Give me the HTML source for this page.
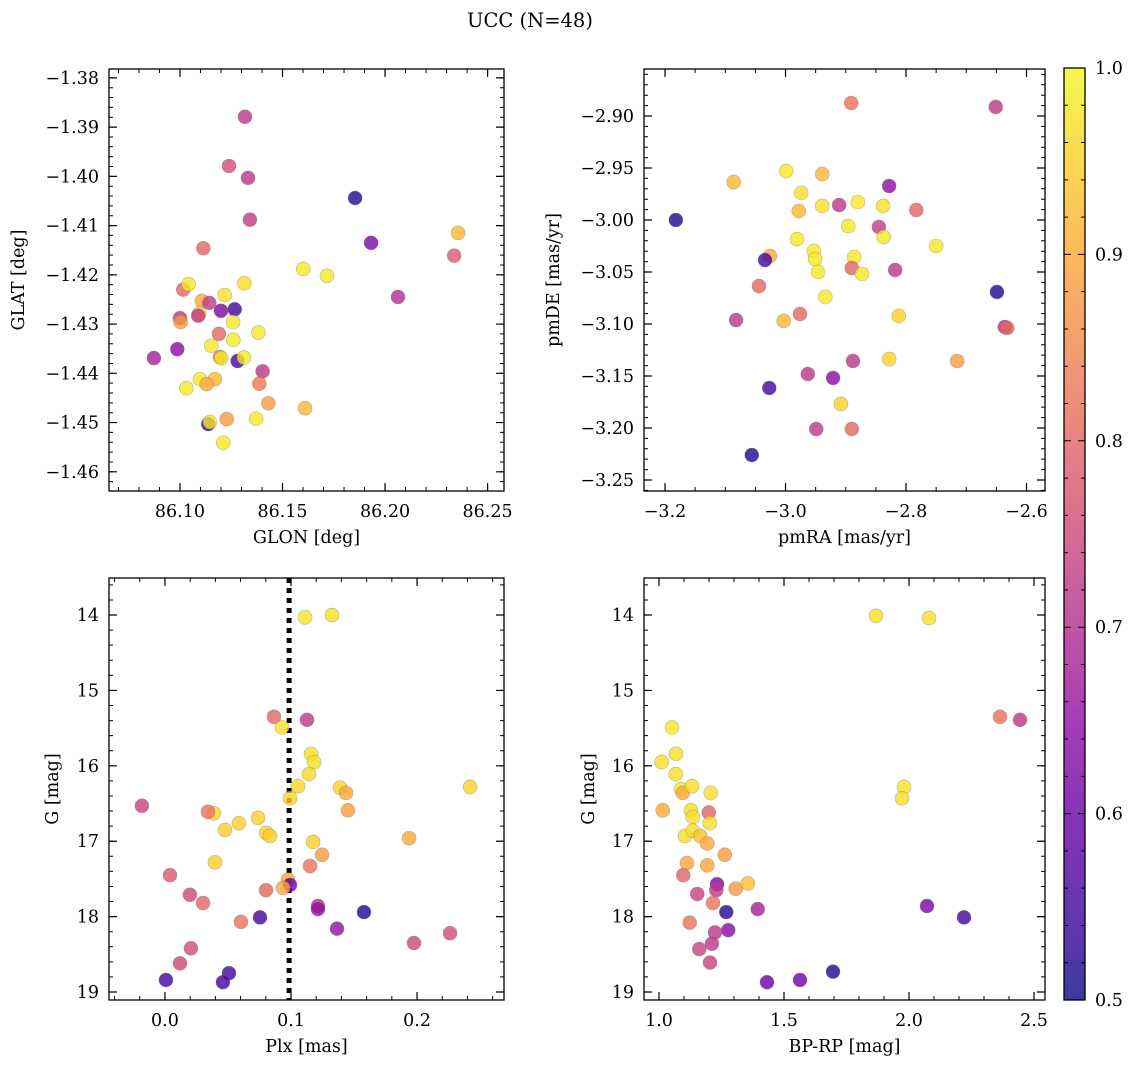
<!DOCTYPE html>
<html><head><meta charset="utf-8"><title>UCC (N=48)</title>
<style>
html,body{margin:0;padding:0;background:#fff;}
svg{display:block;font-family:"DejaVu Serif","Liberation Serif",serif;}
</style></head>
<body>
<svg id="fig" width="1136" height="1068" viewBox="0 0 1136 1068" xmlns="http://www.w3.org/2000/svg">
<defs>
<linearGradient id="plasmaGrad" x1="0" y1="1" x2="0" y2="0">
<stop offset="0" stop-color="#0d0887"/><stop offset="0.1" stop-color="#41049d"/><stop offset="0.2" stop-color="#6a00a8"/><stop offset="0.3" stop-color="#8f0da4"/><stop offset="0.4" stop-color="#b12a90"/><stop offset="0.5" stop-color="#cc4778"/><stop offset="0.6" stop-color="#e16462"/><stop offset="0.7" stop-color="#f2844b"/><stop offset="0.8" stop-color="#fca636"/><stop offset="0.9" stop-color="#fcce25"/><stop offset="1" stop-color="#f0f921"/>
</linearGradient>
</defs>
<text x="530" y="27" font-size="19.5" text-anchor="middle">UCC (N=48)</text>
</svg>
<script>
// ---- Panel 1: GLON vs GLAT ----
const glon1 = [86.1114,86.1601,86.1314,86.1016,86.1042,86.1218,86.1107,86.1143,86.1200,86.1267,86.1094,86.1089,86.1000,86.1003,86.1259,86.1382,86.1190,86.1260,86.1153,86.0987,86.0873,86.1195,86.1201,86.1281,86.1312,86.1403,86.1387,86.1098,86.1171,86.1130,86.1031,86.1431,86.1610,86.1138,86.1146,86.1228,86.1371,86.1211,86.1317,86.1239,86.1332,86.1854,86.1341,86.1932,86.2356,86.2337,86.1717,86.2063];
const glat1 = [-1.4146,-1.4188,-1.4217,-1.4230,-1.4219,-1.4241,-1.4253,-1.4257,-1.4273,-1.4270,-1.4279,-1.4283,-1.4288,-1.4296,-1.4296,-1.4317,-1.4320,-1.4332,-1.4344,-1.4351,-1.4369,-1.4367,-1.4369,-1.4375,-1.4368,-1.4396,-1.4421,-1.4412,-1.4412,-1.4422,-1.4430,-1.4461,-1.4471,-1.4503,-1.4499,-1.4493,-1.4492,-1.4541,-1.3879,-1.3979,-1.4003,-1.4044,-1.4088,-1.4135,-1.4115,-1.4161,-1.4202,-1.4245];
const prob1 = [0.80,0.98,0.97,0.80,0.98,0.97,0.90,0.73,0.62,0.55,0.97,0.72,0.72,0.88,0.98,0.98,0.80,0.98,0.98,0.64,0.68,0.82,0.98,0.55,0.98,0.72,0.83,0.98,0.92,0.90,0.98,0.88,0.92,0.52,0.98,0.88,0.98,0.98,0.72,0.76,0.72,0.52,0.73,0.62,0.92,0.78,0.98,0.70];
// ---- Panel 2: pmRA vs pmDE ----
const pmra2 = [-2.891,-2.651,-2.999,-3.086,-2.828,-2.974,-2.939,-3.182,-2.978,-2.939,-2.880,-2.911,-2.838,-2.783,-2.845,-2.896,-2.837,-2.981,-3.026,-3.034,-2.953,-2.951,-2.946,-2.750,-2.886,-2.890,-2.818,-2.873,-2.649,-2.636,-2.632,-3.044,-2.934,-3.082,-3.003,-2.976,-2.812,-2.888,-2.828,-2.715,-2.963,-2.921,-3.027,-2.908,-2.949,-2.890,-3.056];
const pmde2 = [-2.8875,-2.8913,-2.9529,-2.9635,-2.9673,-2.9740,-2.9558,-3.0000,-2.9913,-2.9865,-2.9827,-2.9856,-2.9865,-2.9904,-3.0067,-3.0058,-3.0163,-3.0183,-3.0346,-3.0385,-3.0298,-3.0375,-3.0500,-3.0250,-3.0356,-3.0462,-3.0481,-3.0519,-3.0692,-3.1029,-3.1038,-3.0635,-3.0740,-3.0962,-3.0971,-3.0904,-3.0923,-3.1356,-3.1337,-3.1356,-3.1481,-3.1519,-3.1615,-3.1769,-3.2010,-3.2010,-3.2260];
const prob2 = [0.82,0.72,0.98,0.92,0.65,0.97,0.92,0.52,0.92,0.97,0.98,0.72,0.97,0.80,0.73,0.98,0.98,0.98,0.90,0.55,0.98,0.98,0.98,0.98,0.98,0.80,0.72,0.98,0.52,0.70,0.80,0.80,0.98,0.72,0.92,0.80,0.95,0.72,0.95,0.88,0.72,0.64,0.55,0.95,0.72,0.80,0.52];
// ---- Panel 3: Plx vs G ----
const plx3 = [0.1325,0.1111,0.0865,0.0929,0.1127,0.1159,0.1183,0.1056,0.0992,0.1143,0.1389,0.2421,0.1437,0.1452,-0.0183,0.0389,0.0341,0.0476,0.0587,0.0738,0.0802,0.0833,0.1175,0.1937,0.1246,0.1151,0.0397,0.0040,0.0976,0.0992,0.0937,0.0802,0.1214,0.1214,0.0198,0.0302,0.0754,0.1579,0.0603,0.1365,0.2262,0.1976,0.0206,0.0119,0.0008,0.0508,0.0460];
const gmag3 = [14.00,14.03,15.35,15.49,15.39,15.84,15.95,16.27,16.43,16.11,16.29,16.28,16.36,16.59,16.53,16.63,16.61,16.85,16.76,16.69,16.89,16.93,17.01,16.96,17.18,17.33,17.28,17.45,17.51,17.58,17.62,17.65,17.86,17.90,17.71,17.82,18.01,17.94,18.07,18.16,18.22,18.35,18.42,18.62,18.84,18.75,18.87];
const prob3 = [0.97,0.98,0.80,0.97,0.72,0.97,0.97,0.96,0.96,0.96,0.95,0.95,0.90,0.88,0.74,0.96,0.82,0.95,0.95,0.95,0.95,0.95,0.95,0.90,0.88,0.82,0.95,0.78,0.90,0.60,0.90,0.80,0.70,0.65,0.75,0.80,0.55,0.52,0.82,0.65,0.76,0.75,0.76,0.75,0.55,0.55,0.55];
const plxLine = 0.0985;
// ---- Panel 4: BP-RP vs G ----
const bprp4 = [1.052,1.068,1.011,1.067,1.088,1.095,1.132,1.207,1.015,1.128,1.135,1.199,1.203,1.104,1.135,1.165,1.193,1.263,1.112,1.193,1.097,1.232,1.229,1.307,1.355,1.153,1.216,1.395,1.269,1.123,1.224,1.277,1.212,1.161,1.204,1.432,1.564,1.696,1.868,2.080,2.364,2.444,1.980,1.972,2.072,2.220];
const gmag4 = [15.49,15.84,15.95,16.11,16.31,16.36,16.27,16.36,16.59,16.59,16.68,16.62,16.76,16.93,16.86,16.93,17.03,17.18,17.29,17.32,17.45,17.57,17.65,17.63,17.56,17.70,17.82,17.90,17.94,18.08,18.21,18.18,18.36,18.43,18.61,18.87,18.84,18.73,14.01,14.04,15.35,15.39,16.28,16.43,17.86,18.01];
const prob4 = [0.98,0.97,0.97,0.97,0.98,0.90,0.97,0.97,0.90,0.97,0.97,0.80,0.97,0.97,0.97,0.93,0.90,0.88,0.90,0.90,0.80,0.62,0.72,0.88,0.93,0.74,0.82,0.68,0.52,0.82,0.72,0.64,0.72,0.74,0.74,0.60,0.60,0.52,0.97,0.97,0.82,0.72,0.97,0.97,0.62,0.55];
// ---- tick labels ----
const ticks1x = [86.10,86.15,86.20,86.25];
const ticks1y = [-1.38,-1.39,-1.40,-1.41,-1.42,-1.43,-1.44,-1.45,-1.46];
const ticks2x = [-3.2,-3.0,-2.8,-2.6];
const ticks2y = [-2.90,-2.95,-3.00,-3.05,-3.10,-3.15,-3.20,-3.25];
const ticks3x = [0.0,0.1,0.2];
const ticksG = [14,15,16,17,18,19];
const ticks4x = [1.0,1.5,2.0,2.5];
const ticksCbar = [0.5,0.6,0.7,0.8,0.9,1.0];

const NS = "http://www.w3.org/2000/svg";
const svg = document.getElementById('fig');
const stops = [[13,8,135],[65,4,157],[106,0,168],[143,13,164],[177,42,144],[204,71,120],[225,100,98],[242,132,75],[252,166,54],[252,206,37],[240,249,33]];
function plasma(v){
  let t=(v-0.5)/0.5; t=Math.max(0,Math.min(1,t));
  const f=t*10, i=Math.min(9,Math.floor(f)), r=f-i;
  const a=stops[i], b=stops[i+1];
  return 'rgb('+[0,1,2].map(k=>Math.round(a[k]+(b[k]-a[k])*r)).join(',')+')';
}
function mk(tag, attrs, parent){
  const e=document.createElementNS(NS,tag);
  for(const k in attrs) e.setAttribute(k,attrs[k]);
  (parent||svg).appendChild(e);
  return e;
}
const TF=17.5, LF=17.5;
function panel(o){
  const g=mk('g',{});
  
  
  const sx=v=>o.L+(v-o.x0)/(o.x1-o.x0)*(o.R-o.L);
  const sy=v=>o.T+(v-o.y0)/(o.y1-o.y0)*(o.B-o.T);
  const dx=o.minx, dy=o.miny;
  const xlo=Math.min(o.x0,o.x1), xhi=Math.max(o.x0,o.x1), ylo=Math.min(o.y0,o.y1), yhi=Math.max(o.y0,o.y1);
  for(let k=Math.ceil(xlo/dx-1e-6);k*dx<=xhi+1e-9;k++){
    const x=sx(k*dx);
    const t=mk('path',{d:`M${x},${o.B}v-4M${x},${o.T}v4`,stroke:'#000','stroke-width':1},g);
    
    
  }
  for(let k=Math.ceil(ylo/dy-1e-6);k*dy<=yhi+1e-9;k++){
    const y=sy(k*dy);
    const t=mk('path',{d:`M${o.L},${y}h4M${o.R},${y}h-4`,stroke:'#000','stroke-width':1},g);
    
    
  }
  o.tx.forEach(v=>{
    const x=sx(v);
    const t=mk('path',{d:`M${x},${o.B}v-8M${x},${o.T}v8`,stroke:'#000','stroke-width':1.2},g);
    
    
    const lb=mk('text',{x:x,y:o.B+26,'font-size':TF,'text-anchor':'middle'},g);
    lb.textContent=o.fx(v);
    
    
  });
  o.ty.forEach(v=>{
    const y=sy(v);
    const t=mk('path',{d:`M${o.L},${y}h8M${o.R},${y}h-8`,stroke:'#000','stroke-width':1.2},g);
    
    
    const lb=mk('text',{x:o.L-10,y:y+6,'font-size':TF,'text-anchor':'end'},g);
    lb.textContent=o.fy(v);
    
    
  });
  if(o.vline!==undefined){
    const x=sx(o.vline);
    const ln=mk('line',{x1:x,x2:x,y1:o.T,y2:o.B,stroke:'#000','stroke-width':5,'stroke-dasharray':'5,5'},g);
    
    
  }
  for(let i=0;i<o.xs.length;i++){
    const c=mk('circle',{cx:sx(o.xs[i]),cy:sy(o.ys[i]),r:7,fill:plasma(o.cs[i]),'fill-opacity':0.8,stroke:'#777','stroke-opacity':0.5,'stroke-width':0.6},g);
    
    
  }
  const fr=mk('rect',{x:o.L,y:o.T,width:o.R-o.L,height:o.B-o.T,fill:'none',stroke:'#000','stroke-width':1.3},g);
  
  
  const xl=mk('text',{x:(o.L+o.R)/2,y:o.B+52,'font-size':LF,'text-anchor':'middle'},g);
  xl.textContent=o.xlabel;
  
  
  const yx=o.ylx, yy=(o.T+o.B)/2;
  const yl=mk('text',{x:yx,y:yy,'font-size':LF,'text-anchor':'middle',transform:`rotate(-90 ${yx} ${yy})`},g);
  yl.textContent=o.ylabel;
  
  
}
const minus=s=>s.replace('-','\u2212');
panel({name:'panel-glon-glat',L:109,R:504,T:69,B:491,x0:86.0654,x1:86.258,y0:-1.3782,y1:-1.4639,minx:0.01,miny:0.002,
  tx:ticks1x,ty:ticks1y,fx:v=>v.toFixed(2),fy:v=>minus(v.toFixed(2)),xs:glon1,ys:glat1,cs:prob1,xlabel:'GLON [deg]',ylabel:'GLAT [deg]',ylx:24});
panel({name:'panel-pmra-pmde',L:644,R:1045,T:69,B:491,x0:-3.2349,x1:-2.5693,y0:-2.8548,y1:-3.2606,minx:0.05,miny:0.01,
  tx:ticks2x,ty:ticks2y,fx:v=>minus(v.toFixed(1)),fy:v=>minus(v.toFixed(2)),xs:pmra2,ys:pmde2,cs:prob2,xlabel:'pmRA [mas/yr]',ylabel:'pmDE [mas/yr]',ylx:559});
panel({name:'panel-plx-g',L:109,R:504,T:578,B:1000,x0:-0.0444,x1:0.2690,y0:13.509,y1:19.106,minx:0.02,miny:0.2,
  tx:ticks3x,ty:ticksG,fx:v=>v.toFixed(1),fy:v=>String(v),xs:plx3,ys:gmag3,cs:prob3,xlabel:'Plx [mas]',ylabel:'G [mag]',ylx:58,vline:plxLine});
panel({name:'panel-bprp-g',L:644,R:1045,T:578,B:1000,x0:0.94,x1:2.544,y0:13.509,y1:19.106,minx:0.1,miny:0.2,
  tx:ticks4x,ty:ticksG,fx:v=>v.toFixed(1),fy:v=>String(v),xs:bprp4,ys:gmag4,cs:prob4,xlabel:'BP-RP [mag]',ylabel:'G [mag]',ylx:594});
(function(){
  const L=1064,R=1085,T=68,B=1000;
  const g=mk('g',{});
  
  
  const r=mk('rect',{x:L,y:T,width:R-L,height:B-T,fill:'url(#plasmaGrad)','fill-opacity':0.8},g);
  
  
  const sy=v=>B-(v-0.5)/0.5*(B-T);
  for(let k=50;k<=100;k+=2){
    const y=sy(k/100), major=(k%10===0);
    const t=mk('path',{d:`M${R},${y}h${major?-7:-4}M${L},${y}h${major?7:4}`,stroke:'#000','stroke-width':1},g);
    
    
  }
  ticksCbar.forEach(v=>{
    const lb=mk('text',{x:R+10,y:sy(v)+6,'font-size':TF},g);
    lb.textContent=v.toFixed(1);
    
    
  });
  const fr=mk('rect',{x:L,y:T,width:R-L,height:B-T,fill:'none',stroke:'#000','stroke-width':1.3},g);
  
  
})();
</script>
</body></html>
